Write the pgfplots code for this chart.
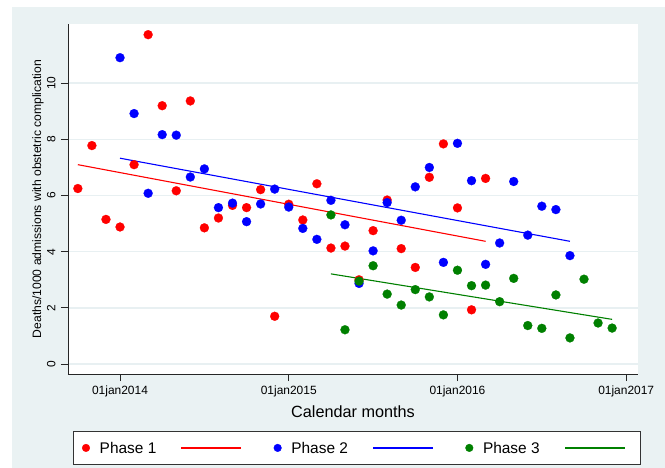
\documentclass[border=0pt]{standalone}
\usepackage{fontspec}
\setmainfont{Liberation Sans}
\usepackage{pgfplots}
\pgfplotsset{compat=1.18}
\definecolor{bgc}{RGB}{234,242,243}
\definecolor{gridc}{RGB}{232,240,242}
\definecolor{pred}{RGB}{255,0,0}
\definecolor{pblue}{RGB}{0,0,255}
\definecolor{pgreen}{RGB}{0,128,0}
\begin{document}
\begin{tikzpicture}
\useasboundingbox (-68bp,-94bp) rectangle (597bp,374bp);
\fill[white] (-68bp,-94bp) rectangle (597bp,374bp);
\fill[bgc] (-56bp,-94bp) rectangle (597bp,367bp);
\begin{axis}[
  at={(0,0)}, anchor=south west,
  scale only axis, width=570bp, height=350bp,
  xmin=-3.70, xmax=36.84, ymin=-0.356, ymax=12.11,
  axis x line*=bottom, axis y line*=left,
  axis line style={black!85, line width=0.9bp},
  axis background/.style={fill=white},
  xtick={0,12,24,36}, xticklabels={01jan2014,01jan2015,01jan2016,01jan2017},
  ytick={0,2,4,6,8,10},
  tick align=outside, major tick length=7bp,
  tick style={black!85, line width=0.9bp},
  ymajorgrids, major grid style={gridc, line width=1.5bp},
  /pgf/number format/assume math mode=true,
  ticklabel style={font=\fontsize{12}{14}\selectfont},
  yticklabel style={xshift=-2bp, rotate=90, anchor=south},
  xticklabel style={yshift=-1bp},
  xlabel={Calendar months},
  ylabel={Deaths/1000 admissions with obstetric complication},
  every axis x label/.style={at={(axis description cs:0.5,0)}, anchor=center, yshift=-38bp, font=\fontsize{16.3}{18}\selectfont},
  every axis y label/.style={at={(axis description cs:0,0.5)}, xshift=-30bp, rotate=90, anchor=center, font=\fontsize{12.2}{14}\selectfont},
  legend columns=6,
  legend style={at={(axis description cs:0.507,-0.1629)}, anchor=north,
    draw=black!80, fill=white, inner xsep=8.5bp, inner ysep=11.2bp,
    font=\fontsize{15.5}{18}\selectfont,
    nodes={inner sep=0bp, text height=11bp, text depth=0bp},
    /tikz/every odd column/.append style={column sep=6.2bp},
    /tikz/every even column/.append style={column sep=25bp}},
]
\addplot[only marks, mark=*, mark size=4.5bp, mark options={fill=pred, draw=pred, line width=0.2bp},
  legend image code/.code={\path (-3.8bp,0bp) (7.3bp,0bp); \fill[pred] (0bp,0bp) circle (3.8bp);}]
  coordinates {
(-3,6.25) (-2,7.78) (-1,5.15) (0,4.88) (1,7.10) (2,11.73) (3,9.20) (4,6.17) (5,9.37) (6,4.85)
(7,5.20) (8,5.65) (9,5.57) (10,6.21) (11,1.70) (12,5.69) (13,5.13) (14,6.42) (15,4.13) (16,4.20)
(17,3.00) (18,4.75) (19,5.84) (20,4.11) (21,3.44) (22,6.65) (23,7.84) (24,5.56) (25,1.93) (26,6.61)
};
\addlegendentry{Phase 1}
\addplot[pred, line width=1.1bp, no marks,
  legend image code/.code={\fill[pred] (0bp,-0.6bp) rectangle (59bp,0.6bp);}]
  coordinates {(-3,7.10) (26,4.37)};
\addlegendentry{}
\addplot[only marks, mark=*, mark size=4.5bp, mark options={fill=pblue, draw=pblue, line width=0.2bp},
  legend image code/.code={\path (-3.8bp,0bp) (7.3bp,0bp); \fill[pblue] (0bp,0bp) circle (3.8bp);}]
  coordinates {
(0,10.91) (1,8.92) (2,6.08) (3,8.17) (4,8.15) (5,6.66) (6,6.95) (7,5.57) (8,5.73) (9,5.07)
(10,5.70) (11,6.23) (12,5.59) (13,4.83) (14,4.44) (15,5.83) (16,4.96) (17,2.87) (18,4.03) (19,5.75)
(20,5.12) (21,6.31) (22,7.00) (23,3.62) (24,7.86) (25,6.53) (26,3.55) (27,4.31) (28,6.50) (29,4.59)
(30,5.62) (31,5.50) (32,3.86)
};
\addlegendentry{Phase 2}
\addplot[pblue, line width=1.1bp, no marks,
  legend image code/.code={\fill[pblue] (0bp,-0.6bp) rectangle (59bp,0.6bp);}]
  coordinates {(0,7.33) (32,4.37)};
\addlegendentry{}
\addplot[only marks, mark=*, mark size=4.5bp, mark options={fill=pgreen, draw=pgreen, line width=0.2bp},
  legend image code/.code={\path (-3.8bp,0bp) (7.3bp,0bp); \fill[pgreen] (0bp,0bp) circle (3.8bp);}]
  coordinates {
(15,5.31) (16,1.22) (17,2.95) (18,3.50) (19,2.49) (20,2.10) (21,2.65) (22,2.39) (23,1.75) (24,3.34)
(25,2.79) (26,2.81) (27,2.22) (28,3.05) (29,1.37) (30,1.27) (31,2.46) (32,0.93) (33,3.02) (34,1.46)
(35,1.28)
};
\addlegendentry{Phase 3}
\addplot[pgreen, line width=1.1bp, no marks,
  legend image code/.code={\fill[pgreen] (0bp,-0.6bp) rectangle (59bp,0.6bp);}]
  coordinates {(15,3.21) (35,1.59)};
\addlegendentry{}
\end{axis}
\end{tikzpicture}
\end{document}
